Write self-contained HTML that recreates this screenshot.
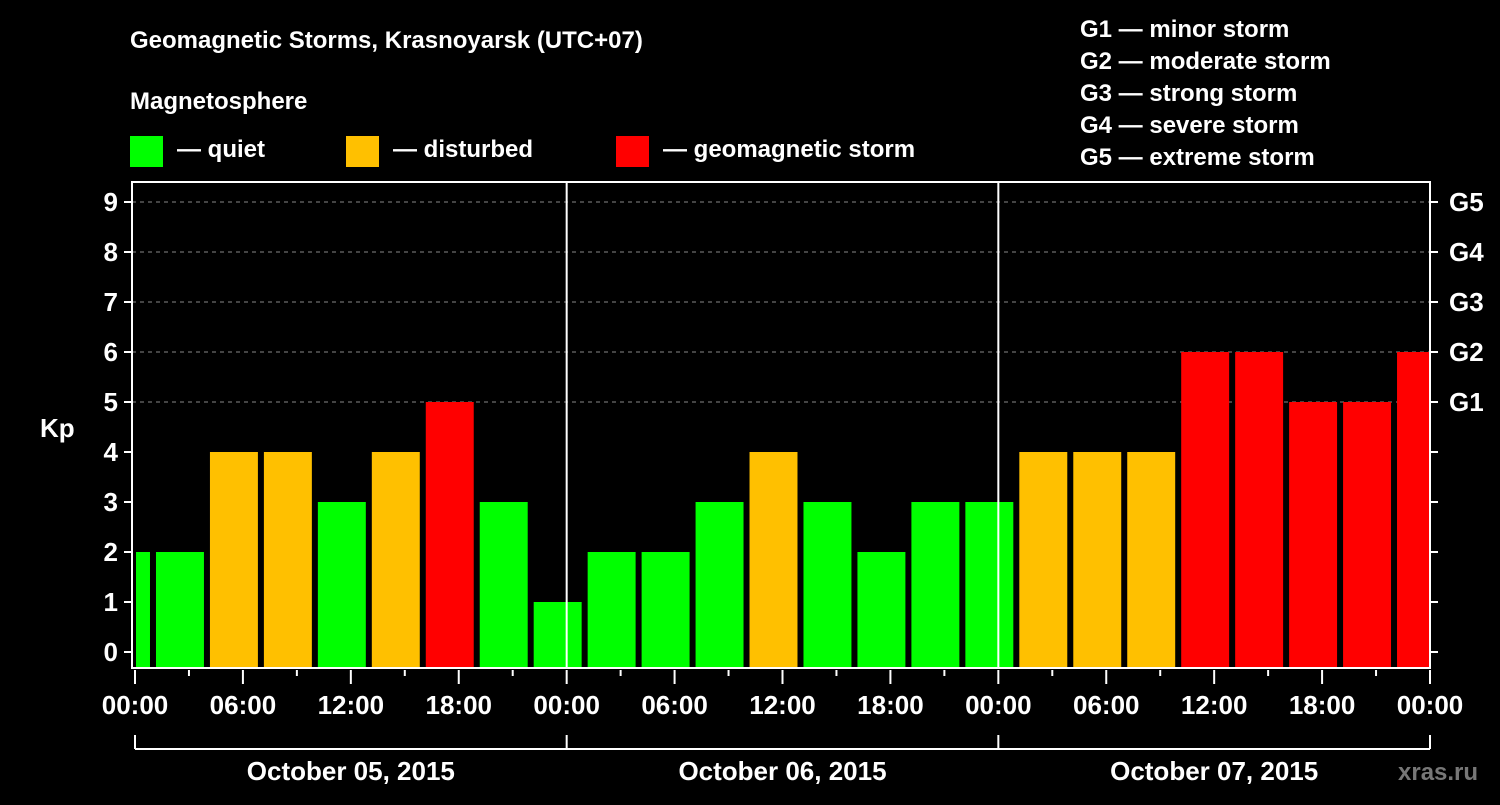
<!DOCTYPE html>
<html><head><meta charset="utf-8"><style>
body{margin:0;background:#000;width:1500px;height:800px;overflow:hidden}
svg text{font-family:"Liberation Sans",Arial,sans-serif;font-weight:bold;fill:#fff}
</style></head><body>
<svg id="c" width="1500" height="800" xmlns="http://www.w3.org/2000/svg">
<text x="130" y="48" font-size="24">Geomagnetic Storms, Krasnoyarsk (UTC+07)</text>
<text x="130" y="109" font-size="24">Magnetosphere</text>
<g><rect x="130" y="136" width="33" height="31" fill="#00ff00"/><text x="177" y="157" font-size="24">— quiet</text></g>
<g><rect x="346" y="136" width="33" height="31" fill="#ffc000"/><text x="393" y="157" font-size="24">— disturbed</text></g>
<g><rect x="616" y="136" width="33" height="31" fill="#ff0000"/><text x="663" y="157" font-size="24">— geomagnetic storm</text></g>
<g font-size="24">
<text x="1080" y="37">G1 — minor storm</text>
<text x="1080" y="69">G2 — moderate storm</text>
<text x="1080" y="101">G3 — strong storm</text>
<text x="1080" y="133">G4 — severe storm</text>
<text x="1080" y="165">G5 — extreme storm</text>
</g>
<text x="40" y="437" font-size="26">Kp</text>
<text x="1398" y="780" font-size="24" fill="#888" style="fill:#777">xras.ru</text>
<g id="plot"></g>
</svg>
<script>
const kpValues=[2,2,4,4,3,4,5,3,1,2,2,3,4,3,2,3,3,4,4,4,6,6,5,5,6];
const yTicks=[0,1,2,3,4,5,6,7,8,9];
const gLabels=["G1","G2","G3","G4","G5"];
const xTickLabels=["00:00","06:00","12:00","18:00"];
const dayLabels=["October 05, 2015","October 06, 2015","October 07, 2015"];
const NS="http://www.w3.org/2000/svg";
const X0=135,PXH=1295/72,L=132,R=1430,T=182,B=668;
const x=h=>X0+h*PXH, y=v=>652-v*50;
const g=document.getElementById('plot');
function mk(t,a){const e=document.createElementNS(NS,t);for(const k in a)e.setAttribute(k,a[k]);g.appendChild(e);return e;}
function col(v){return v>=5?"#ff0000":v>=4?"#ffc000":"#00ff00";}
// grid
yTicks.forEach(v=>{if(v>=5){const l=mk('line',{x1:L,x2:R,y1:y(v),y2:y(v),stroke:'#888','stroke-dasharray':'4,4','stroke-width':1});

}});
// bars
kpValues.forEach((v,i)=>{const h0=-2+3*i;let x1=x(h0)+3,x2=x(h0+3)-3;x1=Math.max(x1,L+4);x2=Math.min(x2,R);
const r=mk('rect',{x:x1,y:y(v),width:x2-x1,height:B-y(v),fill:col(v)});

});
// day dividers
[1,2].forEach(d=>{const l=mk('line',{x1:x(24*d),x2:x(24*d),y1:T,y2:B,stroke:'#fff','stroke-width':2});

});
// frame
const f=mk('rect',{x:L,y:T,width:R-L,height:B-T,fill:'none',stroke:'#fff','stroke-width':2});


// y ticks/labels
yTicks.forEach(v=>{mk('line',{x1:L-8,x2:L,y1:y(v),y2:y(v),stroke:'#fff','stroke-width':2});
mk('line',{x1:R,x2:R+8,y1:y(v),y2:y(v),stroke:'#fff','stroke-width':2});
const t=mk('text',{x:L-14,y:y(v)+9,'font-size':26,'text-anchor':'end'});t.textContent=v;

});
gLabels.forEach((s,i)=>{const t=mk('text',{x:R+19,y:y(5+i)+9,'font-size':26});t.textContent=s;

});
// x ticks
for(let h=0;h<=72;h+=3){mk('line',{x1:x(h),x2:x(h),y1:B+2,y2:B+(h%6==0?16:8),stroke:'#fff','stroke-width':2});}
for(let h=0;h<=72;h+=6){const t=mk('text',{x:x(h),y:714,'font-size':26,'text-anchor':'middle'});t.textContent=h==72?"00:00":xTickLabels[(h/6)%4];

}
// day bracket
mk('line',{x1:x(0),x2:x(72),y1:749,y2:749,stroke:'#fff','stroke-width':2});
for(let d=0;d<=3;d++)mk('line',{x1:x(24*d),x2:x(24*d),y1:735,y2:749,stroke:'#fff','stroke-width':2});
dayLabels.forEach((s,i)=>{const t=mk('text',{x:x(24*i+12),y:780,'font-size':26,'text-anchor':'middle'});t.textContent=s;

});
</script>
</body></html>
